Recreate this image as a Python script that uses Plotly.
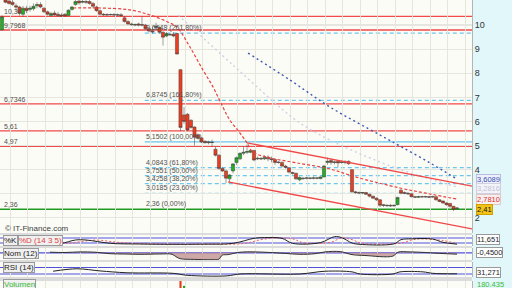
import plotly.graph_objects as go

# ---------------- data ----------------
opens = [9.80, 11.05, 11.00, 10.95, 10.80, 10.75, 10.45, 10.70, 10.65, 10.68,
         10.80, 10.85, 10.70, 10.55, 10.40, 10.50, 10.45, 10.42, 10.45, 10.40,
         10.65, 10.85, 11.00, 10.95, 10.98, 10.98, 10.90, 10.75, 10.60, 10.45,
         10.44, 10.43, 10.44, 10.43, 10.43, 10.30, 10.15, 10.05, 10.00, 10.05,
         10.02, 10.00, 9.85, 9.75, 9.90, 9.90, 9.70, 9.55, 9.62, 9.62,
         9.65, 8.15, 6.27, 6.30, 6.05, 5.77, 5.45, 5.32, 5.18, 5.12,
         5.15, 4.85, 4.60, 4.05, 3.95, 3.62, 3.95, 4.30, 4.45, 4.68,
         4.72, 4.72, 4.80, 4.45, 4.47, 4.45, 4.52, 4.45, 4.42, 4.32,
         4.30, 4.15, 4.08, 3.88, 3.85, 3.58, 3.65, 3.64, 3.66, 3.64,
         3.66, 3.63, 3.70, 4.30, 4.38, 4.30, 4.35, 4.30, 4.30, 4.35,
         4.00, 3.08, 3.05, 3.03, 3.05, 2.98, 2.90, 2.82, 2.75, 2.55,
         2.50, 2.52, 2.50, 2.55, 3.15, 3.05, 3.02, 3.00, 2.88, 2.86,
         2.88, 2.87, 2.88, 2.88, 2.88, 2.75, 2.70, 2.62, 2.60, 2.48, 2.38]
highs = [10.40, 11.15, 11.10, 11.05, 10.90, 10.80, 10.80, 10.80, 10.80, 10.90,
         10.95, 10.95, 10.75, 10.60, 10.55, 10.60, 10.55, 10.50, 10.50, 10.65,
         10.80, 11.05, 11.05, 11.05, 11.05, 11.05, 10.95, 10.80, 10.65, 10.50,
         10.50, 10.48, 10.50, 10.48, 10.50, 10.38, 10.20, 10.10, 10.07, 10.10,
         10.35, 10.05, 9.90, 9.90, 10.10, 9.95, 9.75, 9.70, 9.68, 9.70,
         9.68, 8.18, 6.60, 6.35, 6.10, 5.80, 5.50, 5.35, 5.22, 5.20,
         5.25, 4.95, 4.65, 4.10, 4.00, 3.82, 4.28, 4.55, 4.72, 4.95,
         5.05, 4.85, 4.82, 4.55, 4.52, 4.60, 4.60, 4.55, 4.45, 4.35,
         4.35, 4.20, 4.10, 3.92, 3.88, 3.72, 3.70, 3.70, 3.70, 3.72,
         3.70, 3.72, 4.20, 4.50, 4.45, 4.38, 4.40, 4.38, 4.40, 4.38,
         4.02, 3.12, 3.10, 3.08, 3.08, 3.00, 2.92, 2.85, 2.78, 2.58,
         2.56, 2.58, 2.56, 2.88, 3.20, 3.10, 3.08, 3.02, 2.92, 2.92,
         2.92, 2.92, 2.92, 2.92, 2.90, 2.78, 2.72, 2.65, 2.62, 2.50, 2.45]
lows = [9.78, 10.90, 10.85, 10.80, 10.60, 10.40, 10.35, 10.50, 10.55, 10.60,
        10.70, 10.70, 10.50, 10.40, 10.35, 10.38, 10.35, 10.35, 10.36, 10.38,
        10.60, 10.80, 10.85, 10.90, 10.88, 10.85, 10.70, 10.55, 10.40, 10.38,
        10.40, 10.40, 10.40, 10.38, 10.35, 10.10, 10.00, 9.98, 9.95, 9.95,
        9.95, 9.80, 9.70, 9.65, 9.80, 9.65, 9.15, 9.50, 9.55, 9.50,
        8.78, 5.60, 5.90, 5.60, 5.70, 5.00, 5.25, 5.10, 5.08, 5.05,
        4.95, 4.55, 4.00, 3.90, 3.45, 3.45, 3.85, 4.20, 4.40, 4.60,
        4.65, 4.68, 4.35, 4.40, 4.40, 4.40, 4.35, 4.30, 4.20, 4.25,
        4.10, 4.05, 3.85, 3.80, 3.58, 3.52, 3.58, 3.60, 3.60, 3.60,
        3.60, 3.60, 3.68, 4.20, 4.20, 4.22, 4.10, 4.25, 4.22, 4.20,
        3.05, 3.00, 2.98, 2.98, 2.95, 2.85, 2.78, 2.70, 2.45, 2.45,
        2.46, 2.46, 2.46, 2.52, 2.98, 2.98, 2.95, 2.85, 2.82, 2.82,
        2.84, 2.84, 2.82, 2.84, 2.72, 2.65, 2.58, 2.50, 2.42, 2.28, 2.36]
closes = [10.34, 10.95, 10.90, 10.85, 10.75, 10.50, 10.70, 10.60, 10.70, 10.78,
          10.85, 10.75, 10.55, 10.45, 10.48, 10.42, 10.40, 10.38, 10.38, 10.62,
          10.75, 10.98, 10.92, 10.98, 10.95, 10.90, 10.78, 10.60, 10.45, 10.43,
          10.42, 10.44, 10.42, 10.42, 10.40, 10.15, 10.05, 10.02, 10.02, 10.00,
          10.00, 9.85, 9.75, 9.72, 9.95, 9.70, 9.50, 9.65, 9.60, 9.55,
          8.80, 5.75, 6.00, 5.65, 5.75, 5.35, 5.30, 5.15, 5.12, 5.15,
          5.13, 4.60, 4.05, 3.95, 3.65, 3.78, 4.24, 4.50, 4.68, 4.72,
          4.75, 4.80, 4.40, 4.47, 4.45, 4.50, 4.45, 4.42, 4.30, 4.30,
          4.15, 4.10, 3.90, 3.85, 3.62, 3.68, 3.63, 3.66, 3.64, 3.66,
          3.65, 3.70, 4.15, 4.35, 4.30, 4.32, 4.28, 4.32, 4.31, 4.25,
          3.08, 3.05, 3.03, 3.05, 2.98, 2.90, 2.82, 2.75, 2.52, 2.52,
          2.52, 2.50, 2.52, 2.85, 3.02, 3.02, 3.00, 2.88, 2.86, 2.88,
          2.87, 2.88, 2.86, 2.87, 2.75, 2.68, 2.62, 2.55, 2.48, 2.35, 2.41]
days = list(range(len(closes)))

# price axis ticks
price_ticks = [2, 3, 4, 5, 6, 7, 8, 9, 10, 11]
price_tick_text = ["2", "", "4", "5", "6", "7", "8", "9", "10", "11"]

# moving averages (read at points)
ma_red_x = [20.3, 28, 36.6, 42.3, 48, 50, 53.7, 57.4, 60.3, 63.1, 65.1, 68, 70,
            71.7, 76.6, 84.3, 93.7, 101, 113.7, 122.3, 130]
ma_red = [10.71, 10.71, 10.63, 10.42, 10.09, 9.92, 9.09, 8.14, 7.43, 6.60, 6.06,
          5.52, 5.11, 4.73, 4.49, 4.28, 4.03, 3.70, 3.24, 2.99, 2.781]
ma_blue_x = [70.3, 82.3, 93.7, 108, 113.7, 122.3, 130]
ma_blue = [8.84, 7.72, 6.60, 5.44, 4.98, 4.28, 3.6089]
ma_lav_x = [50.3, 66, 80.3, 85.1, 93.7, 108, 119.4, 130]
ma_lav = [10.42, 8.34, 6.48, 5.94, 5.23, 4.32, 3.74, 3.2816]

# trend channel
chan_up_x = [70, 134.3]
chan_up = [5.11, 3.32]
chan_lo_x = [64.6, 134.3]
chan_lo = [3.49, 1.54]

# horizontal levels
red_levels = [10.36, 9.7968, 6.7346, 5.61, 4.97]
red_labels = ["10,36", "9,7968", "6,7346", "5,61", "4,97"]
support_level = 2.36
support_label = "2,36"
fib_levels = [9.6648, 6.8745, 5.1502, 4.0843, 3.7551, 3.4258, 3.0185, 2.36]
fib_labels = ["9,6648 (261,80%)", "6,8745 (161,80%)", "5,1502 (100,00%)",
              "4,0843 (61,80%)", "3,7551 (50,00%)", "3,4258 (38,20%)",
              "3,0185 (23,60%)", "2,36 (0,00%)"]
fib_start = 40.8

# stochastic
stoch_k_x = [15, 17, 21, 24, 31, 39, 49, 57, 66, 72, 75, 80, 83, 91, 95, 97, 100,
             102, 112, 114, 117, 123, 126, 130]
stoch_k = [20, 16, 56, 56, 16, 8, 4, 6, 16, 76, 85, 76, 16, 25, 96, 85, 20, 5, 10,
           60, 70, 68, 28, 6]
stoch_d_x = [17, 19, 24, 27, 34, 42, 51, 59, 69, 74, 78, 83, 86, 94, 97, 100, 103,
             114, 117, 119, 126, 130]
stoch_d = [22, 18, 45, 55, 25, 10, 6, 6, 14, 60, 80, 70, 25, 30, 80, 60, 15, 20, 55,
           68, 50, 11.651]

# momentum
mom_x = [13.7, 18, 22.3, 26.6, 30.9, 35.1, 39.4, 45.1, 48.6, 50, 51.1, 55, 60,
         62, 62.9, 64.6, 68, 72.3, 76.6, 80.9, 85.1, 89.4, 92.3, 96.6, 100, 103.7,
         111.7, 113.1, 116.6, 120.9, 125.1, 130]
mom = [0.2, 0.1, 0.3, 0.2, -0.3, -0.4, -0.5, -0.4, -0.5, -1.5, -2.0, -2.2, -2.3,
       -2.1, -0.8, -0.6, 0.2, 0.3, 0.1, -0.2, -0.5, -0.3, 0.3, 0.4, -0.6, -0.9,
       -1.1, 0.2, 0.3, 0.1, -0.2, -0.45]

# RSI
rsi_x = [14.6, 21.4, 28, 35.7, 48.9, 52.9, 64.3, 68, 85.1, 92.3, 100, 102.3, 111.7,
         113.7, 120.3, 123.1, 130]
rsi = [47, 62, 49, 37.5, 34, 22, 18.6, 30, 30, 47, 43, 30, 30, 43, 43, 34, 31.271]

# volume
vol_x = [51, 52]
vol = [2400000, 250000]
vol_colors = ["#e8381c", "#22aa22"]

right_labels = [("3,6089", 179.5, "#3a4fb0", "#eef0fb", "#b8bce0"),
                ("3,2816", 188.5, "#c0c0d8", "#f4f4f8", "#d0d0e0"),
                ("2,7810", 199.5, "#e03030", "#f8f0ef", "#e0c8c8"),
                ("2,41", 209, "#111111", "#f2c418", "#d0a000"),
                ("11,651", 239, "#222222", "#ffffff", "#999999"),
                ("-0,4500", 252, "#222222", "#ffffff", "#999999"),
                ("31,271", 272, "#222222", "#ffffff", "#999999"),
                ("180.435", 284, "#33bb33", "#e2f7fa", "#e2f7fa")]

# ---------------- figure ----------------
W, H = 512, 288
PW = 472  # width of plotting area (paper x = px / PW)
FONT = "Liberation Sans, Arial, sans-serif"
fig = go.Figure()

# main price panel
fig.add_trace(go.Scatter(x=ma_lav_x, y=ma_lav, mode="lines", line=dict(color="#cfcfe6", width=1.4, dash="2px,3px", shape="spline"), hoverinfo="skip"))
fig.add_trace(go.Scatter(x=ma_blue_x, y=ma_blue, mode="lines", line=dict(color="#4058b0", width=1.4, dash="2px,3px", shape="spline"), hoverinfo="skip"))
fig.add_trace(go.Scatter(x=ma_red_x, y=ma_red, mode="lines", line=dict(color="#e84040", width=1.2, dash="3px,2px", shape="spline"), hoverinfo="skip"))
fig.add_trace(go.Scatter(x=chan_up_x, y=chan_up, mode="lines", line=dict(color="#f04848", width=1.3), hoverinfo="skip"))
fig.add_trace(go.Scatter(x=chan_lo_x, y=chan_lo, mode="lines", line=dict(color="#f04848", width=1.3), hoverinfo="skip"))
fig.add_trace(go.Candlestick(
    x=days, open=opens, high=highs, low=lows, close=closes,
    increasing=dict(fillcolor="#22b022", line=dict(color="#404040", width=0.5)),
    decreasing=dict(fillcolor="#f03c1e", line=dict(color="#404040", width=0.5)),
    whiskerwidth=0, hoverinfo="skip"))

# stochastic panel
fig.add_trace(go.Scatter(x=stoch_d_x, y=stoch_d, yaxis="y2", mode="lines", line=dict(color="#ee6060", width=1, dash="2px,2px", shape="spline"), hoverinfo="skip"))
fig.add_trace(go.Scatter(x=stoch_k_x, y=stoch_k, yaxis="y2", mode="lines", line=dict(color="#222222", width=1, shape="spline"), hoverinfo="skip"))
# momentum panel
fig.add_trace(go.Scatter(x=mom_x, y=mom, yaxis="y3", mode="lines", fill="tozeroy", fillcolor="rgba(190,140,140,0.75)", line=dict(color="#333333", width=1, shape="spline"), hoverinfo="skip"))
# rsi panel
fig.add_trace(go.Scatter(x=rsi_x, y=rsi, yaxis="y4", mode="lines", line=dict(color="#222222", width=1, shape="spline"), hoverinfo="skip"))
# volume
fig.add_trace(go.Bar(x=vol_x, y=vol, yaxis="y5", marker=dict(color=vol_colors, line=dict(width=0)), width=0.6, hoverinfo="skip"))

XMIN, XMAX = -0.5714, 134.2857
shapes = []
# right axis background
shapes.append(dict(type="rect", xref="paper", yref="paper", x0=1, x1=W / PW, y0=0, y1=1, fillcolor="#e2f7fa", line=dict(width=0), layer="below"))
# level at 10 (darker grid)
shapes.append(dict(type="line", xref="x", yref="y", x0=XMIN, x1=XMAX, y0=10, y1=10, line=dict(color="#c4c4c0", width=1), layer="below"))
for lv in red_levels:
    shapes.append(dict(type="line", xref="x", yref="y", x0=XMIN, x1=XMAX, y0=lv, y1=lv, line=dict(color="#f04a4a", width=1.3), layer="below"))
for lv in fib_levels[:-1]:
    solid = abs(lv - 5.1502) < 1e-6
    shapes.append(dict(type="line", xref="x", yref="y", x0=fib_start, x1=XMAX, y0=lv, y1=lv,
                       line=dict(color="#6cc6ee", width=1.2, dash="solid" if solid else "4px,3px"), layer="below"))
shapes.append(dict(type="line", xref="x", yref="y", x0=XMIN, x1=XMAX, y0=support_level, y1=support_level, line=dict(color="#229a22", width=1.4), layer="below"))
# oscillator guide lines
for y, ax in [(80, "y2"), (20, "y2"), (0, "y3"), (70, "y4"), (30, "y4")]:
    shapes.append(dict(type="line", xref="x", yref=ax, x0=XMIN, x1=XMAX, y0=y, y1=y, line=dict(color="#5050dd", width=1.2), layer="below"))

ann = []
for lv, t in zip(red_levels + [support_level], red_labels + [support_label]):
    ann.append(dict(x=3 / PW, xref="paper", y=lv, yref="y", text=t, showarrow=False, xanchor="left", yanchor="bottom",
                    font=dict(family=FONT, size=7, color="#505050"), borderpad=0))
for lv, t in zip(fib_levels, fib_labels):
    ann.append(dict(x=fib_start, xref="x", y=lv, yref="y", text=t, showarrow=False, xanchor="left", yanchor="bottom",
                    font=dict(family=FONT, size=7, color="#505050"), borderpad=0))
ann.append(dict(x=3 / PW, xref="paper", y=1 - 228 / H, yref="paper", text="© IT-Finance.com", showarrow=False,
                xanchor="left", yanchor="middle", font=dict(family=FONT, size=8, color="#404040")))
# panel labels
for t, xp, ypx, col in [("%K", 3, 240, "#222222"), ("%D (14 3 5)", 18, 240, "#e04040"),
                         ("Nom (12)", 3, 253, "#222222"), ("RSI (14)", 3, 267, "#222222"),
                         ("Volumen", 3, 284, "#33bb33")]:
    ann.append(dict(x=xp / PW, xref="paper", y=1 - ypx / H, yref="paper", text=t, showarrow=False,
                    xanchor="left", yanchor="middle", font=dict(family=FONT, size=8, color=col),
                    bgcolor="#f0f0f0", bordercolor="#9a9a9a", borderwidth=1, borderpad=0))
for t, ypx, col, bg, bc in right_labels:
    ann.append(dict(x=476 / PW, xref="paper", y=1 - ypx / H, yref="paper", text=t, showarrow=False,
                    xanchor="left", yanchor="middle", font=dict(family=FONT, size=7.5, color=col),
                    bgcolor=bg, bordercolor=bc, borderwidth=1, borderpad=0))

grid = "#e6e6de"
common_y = dict(showticklabels=False, showgrid=False, zeroline=False, side="right", anchor="x",
                showline=True, linecolor="#b4b4b4", linewidth=1, fixedrange=True)

fig.update_layout(
    width=W, height=H, margin=dict(l=0, r=W - PW, t=0, b=0),
    paper_bgcolor="#dcdcdc", plot_bgcolor="#fcfcf6",
    showlegend=False, boxgap=0.1, boxgroupgap=0,
    font=dict(family=FONT, size=9, color="#333333"),
    xaxis=dict(range=[XMIN, XMAX], showticklabels=False, showgrid=True, gridcolor=grid,
               tick0=2.4, dtick=5, zeroline=False, rangeslider=dict(visible=False), anchor="y",
               showline=False, fixedrange=True),
    yaxis=dict(domain=[1 - 233 / H, 1], range=[1.373, 11.0415], side="right",
               tickmode="array", tickvals=price_ticks, ticktext=price_tick_text,
               showgrid=True, gridcolor=grid, zeroline=False, ticks="", showline=True,
               linecolor="#b4b4b4", tickfont=dict(size=9, color="#333333")),
    yaxis2=dict(domain=[1 - 246 / H, 1 - 235 / H], range=[-16, 116], **common_y),
    yaxis3=dict(domain=[1 - 260 / H, 1 - 248 / H], range=[-2.4, 1.6], **common_y),
    yaxis4=dict(domain=[1 - 277 / H, 1 - 262 / H], range=[11.5, 103.8], **common_y),
    yaxis5=dict(domain=[0, 1 - 281 / H], range=[0, 800000], **common_y),
    shapes=shapes, annotations=ann,
)

fig.write_html("out.html")
